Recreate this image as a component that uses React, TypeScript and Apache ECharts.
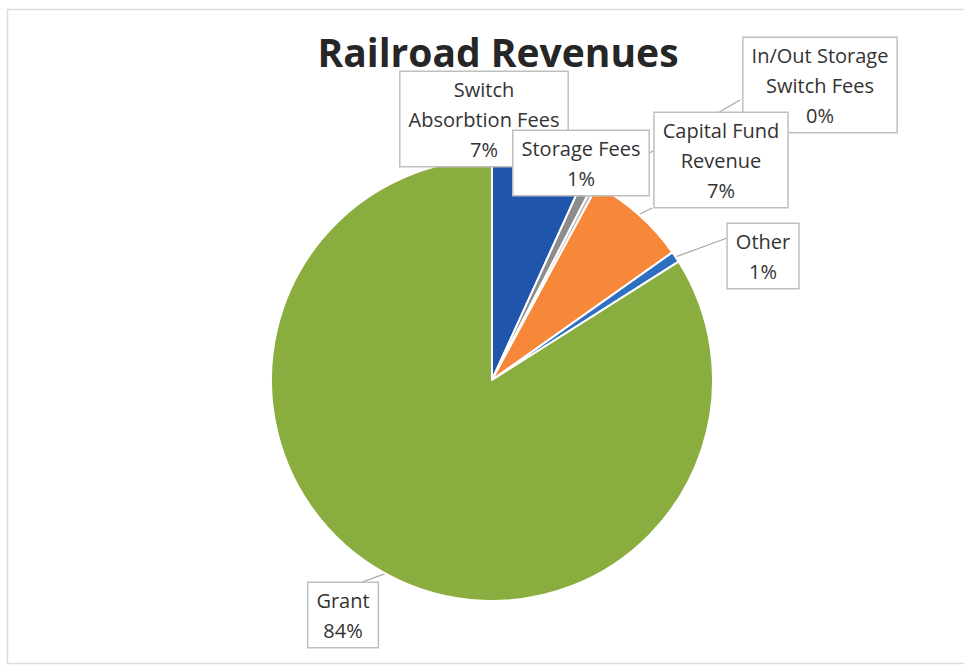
import React, { useEffect, useRef } from "react";
import * as echarts from "echarts";

const categories = [
  "Switch Absorbtion Fees",
  "Storage Fees",
  "In/Out Storage Switch Fees",
  "Capital Fund Revenue",
  "Other",
  "Grant",
];
const shares = [6.8, 0.8, 0.3, 7.3, 0.8, 84.0];
const labelTexts = [
  "Switch\nAbsorbtion Fees",
  "Storage Fees",
  "In/Out Storage\nSwitch Fees",
  "Capital Fund\nRevenue",
  "Other",
  "Grant",
];
const colors = ["#1f55aa", "#8c8c8c", "#b5b5b5", "#f7883a", "#2f6fc0", "#8aad3f"];

// label box centres and leader line end points (layout, not data)
const labelCenters: number[][] = [
  [484, 119],
  [581, 163],
  [820, 85],
  [721, 160],
  [763, 256],
  [343, 615],
];
const lineEnds: (number[] | null)[] = [null, null, [740, 100], [652, 208], [727, 238], [362, 582]];

export default function App() {
  const ref = useRef<HTMLDivElement>(null);
  useEffect(() => {
    if (!ref.current) return;
    const chart = echarts.init(ref.current, undefined, { renderer: "svg" });
    const font = "'Open Sans', 'Noto Sans', sans-serif";
    chart.setOption({
      animation: false,
      backgroundColor: "#ffffff",
      title: {
        text: "Railroad Revenues",
        left: 493,
        top: 27,
        textAlign: "center",
        textStyle: { fontFamily: font, fontSize: 39, fontWeight: "bold", color: "#262626" },
      },
      graphic: [
        {
          type: "rect",
          shape: { x: 7.5, y: 9.5, width: 990, height: 654 },
          style: { fill: "none", stroke: "#dcdcdc", lineWidth: 1.5 },
          silent: true,
          z: -10,
        },
      ],
      series: [
        {
          type: "pie",
          center: [492, 380],
          radius: 221,
          startAngle: 90,
          clockwise: true,
          percentPrecision: 0,
          itemStyle: { borderColor: "#ffffff", borderWidth: 2 },
          emphasis: { disabled: true },
          data: categories.map((name, i) => ({
            name,
            value: shares[i],
            itemStyle: { color: colors[i] },
            labelLine: { show: lineEnds[i] !== null },
          })),
          label: {
            show: true,
            position: "outside",
            formatter: (p: any) => `${labelTexts[p.dataIndex]}\n${p.percent}%`,
            fontFamily: font,
            fontSize: 20,
            lineHeight: 30,
            color: "#333333",
            align: "center",
            backgroundColor: "#ffffff",
            borderColor: "#bfbfbf",
            borderWidth: 1.5,
            padding: [2, 8, 2, 8],
          },
          labelLine: {
            show: true,
            lineStyle: { color: "#a6a6a6", width: 1.2 },
          },
          labelLayout: (params: any) => {
            const i = params.dataIndex;
            const c = labelCenters[i];
            const res: any = { x: c[0], y: c[1], align: "center", verticalAlign: "middle" };
            const e = lineEnds[i];
            if (e && params.labelLinePoints) {
              const p0 = params.labelLinePoints[0];
              res.labelLinePoints = [p0, e, e];
            }
            return res;
          },
        },
      ],
    });
    return () => chart.dispose();
  }, []);
  return (
    <div
      ref={ref}
      style={{ position: "fixed", left: 0, top: 0, width: 964, height: 665 }}
    />
  );
}
